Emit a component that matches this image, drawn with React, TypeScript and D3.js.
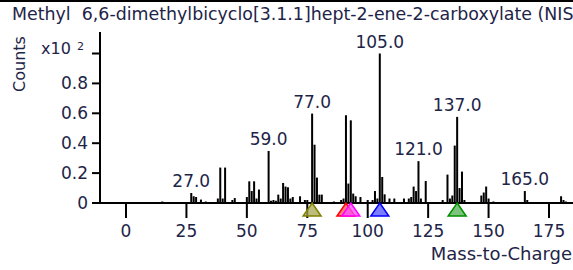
import React from 'react';
import * as d3 from 'd3';

const title = 'Methyl  6,6-dimethylbicyclo[3.1.1]hept-2-ene-2-carboxylate (NIST)';

// m/z and relative counts (x10^2)
const mzValues = [15, 27, 28, 29, 31, 33, 38, 39, 40, 41, 44, 45, 50, 51, 52, 53, 54, 55, 59, 60, 61, 62, 63, 64, 65, 66, 67, 68, 69, 72, 74, 75, 77, 78, 79, 80, 81, 86, 89, 90, 91, 92, 93, 94, 95, 97, 100, 102, 103, 104, 105, 106, 107, 109, 111, 115, 117, 118, 119, 120, 121, 122, 124, 131, 133, 134, 135, 136, 137, 138, 139, 140, 147, 148, 149, 150, 152, 165, 166, 180, 181, 182];
const counts = [0.01, 0.067, 0.045, 0.04, 0.023, 0.01, 0.03, 0.237, 0.03, 0.237, 0.02, 0.033, 0.04, 0.145, 0.08, 0.145, 0.03, 0.09, 0.348, 0.015, 0.02, 0.015, 0.056, 0.03, 0.134, 0.11, 0.105, 0.03, 0.04, 0.045, 0.02, 0.02, 0.598, 0.39, 0.17, 0.056, 0.056, 0.01, 0.02, 0.03, 0.587, 0.13, 0.553, 0.063, 0.045, 0.04, 0.02, 0.02, 0.08, 0.03, 1.0, 0.174, 0.058, 0.03, 0.03, 0.03, 0.03, 0.04, 0.11, 0.08, 0.28, 0.03, 0.147, 0.02, 0.19, 0.03, 0.05, 0.384, 0.576, 0.1, 0.21, 0.02, 0.05, 0.07, 0.11, 0.03, 0.01, 0.08, 0.02, 0.045, 0.02, 0.01];

const labeledPeaks = [27, 59, 77, 105, 121, 137, 165];

const markerMz = [77, 91, 93, 105, 137];
const markerStroke = ['#808000', '#ff0000', '#ff00ff', '#0000ff', '#009000'];
const markerFill = ['#a8a850', '#ff5050', '#ff50ff', '#5050ff', '#50b050'];

const xTicks = [0, 25, 50, 75, 100, 125, 150, 175];
const yTicks = [0, 0.2, 0.4, 0.6, 0.8];

const W = 573;
const H = 270;
const font = '"DejaVu Sans", Verdana, sans-serif';
const textColor = '#1e2448';

export default function App() {
  const x = d3.scaleLinear().domain([0, 175]).range([126, 549]);
  const y = d3.scaleLinear().domain([0, 1]).range([203, 53.5]);
  const axisX = 100;
  const base = y(0);

  const peaks = mzValues.map((mz, i) => ({ mz, c: counts[i] }));

  return (
    <svg width={W} height={H} style={{ position: 'absolute', left: 0, top: 0, background: '#fff' }}
      fontFamily={font}>
      <rect x={0} y={0} width={W} height={2} fill="#000" />
      <text x={12} y={20} fontSize={17.4} fill={textColor} style={{ whiteSpace: 'pre' }}>{title}</text>

      {/* y axis */}
      <line x1={axisX} x2={axisX} y1={32} y2={base + 1} stroke="#000" strokeWidth={2} />
      {yTicks.concat([1]).map(t => (
        <line key={t} x1={axisX - 8} x2={axisX} y1={y(t)} y2={y(t)} stroke="#000" strokeWidth={2} />
      ))}
      {yTicks.map(t => (
        <text key={t} x={axisX - 12} y={y(t) + 6} fontSize={17} textAnchor="end" fill={textColor}>
          {t === 0 ? '0' : d3.format('.1f')(t)}
        </text>
      ))}
      <text x={41} y={y(1)} fontSize={16} fill={textColor}>x10</text>
      <text x={77} y={y(1) - 4} fontSize={11} fill={textColor}>2</text>
      <text transform={`translate(25,64) rotate(-90)`} fontSize={16} textAnchor="middle" fill={textColor}>Counts</text>

      {/* x axis */}
      <line x1={axisX} x2={W} y1={base} y2={base} stroke="#000" strokeWidth={2} />
      {xTicks.map(t => (
        <g key={t}>
          <line x1={x(t)} x2={x(t)} y1={base} y2={base + 15} stroke="#000" strokeWidth={2} />
          <text x={x(t)} y={236.5} fontSize={17} textAnchor="middle" fill={textColor}>{t}</text>
        </g>
      ))}
      <text x={572} y={260} fontSize={18} textAnchor="end" fill={textColor}>Mass-to-Charge</text>

      {/* spectrum sticks */}
      {peaks.map(p => (
        <rect key={p.mz} x={x(p.mz) - 1} y={y(p.c)} width={2} height={base - y(p.c)} fill="#000" />
      ))}
      {peaks.filter(p => labeledPeaks.includes(p.mz)).map(p => (
        <text key={'l' + p.mz} x={x(p.mz)} y={y(p.c) - 6} fontSize={17} textAnchor="middle" fill={textColor}>
          {p.mz.toFixed(1)}
        </text>
      ))}

      {/* precursor markers */}
      {markerMz.map((m, i) => {
        const cx = x(m);
        return (
          <path key={m} d={`M${cx},${base}L${cx + 9},${base + 13}L${cx - 9},${base + 13}Z`}
            fill={markerFill[i]} fillOpacity={0.75} stroke={markerStroke[i]} strokeWidth={1.5} />
        );
      })}
    </svg>
  );
}
